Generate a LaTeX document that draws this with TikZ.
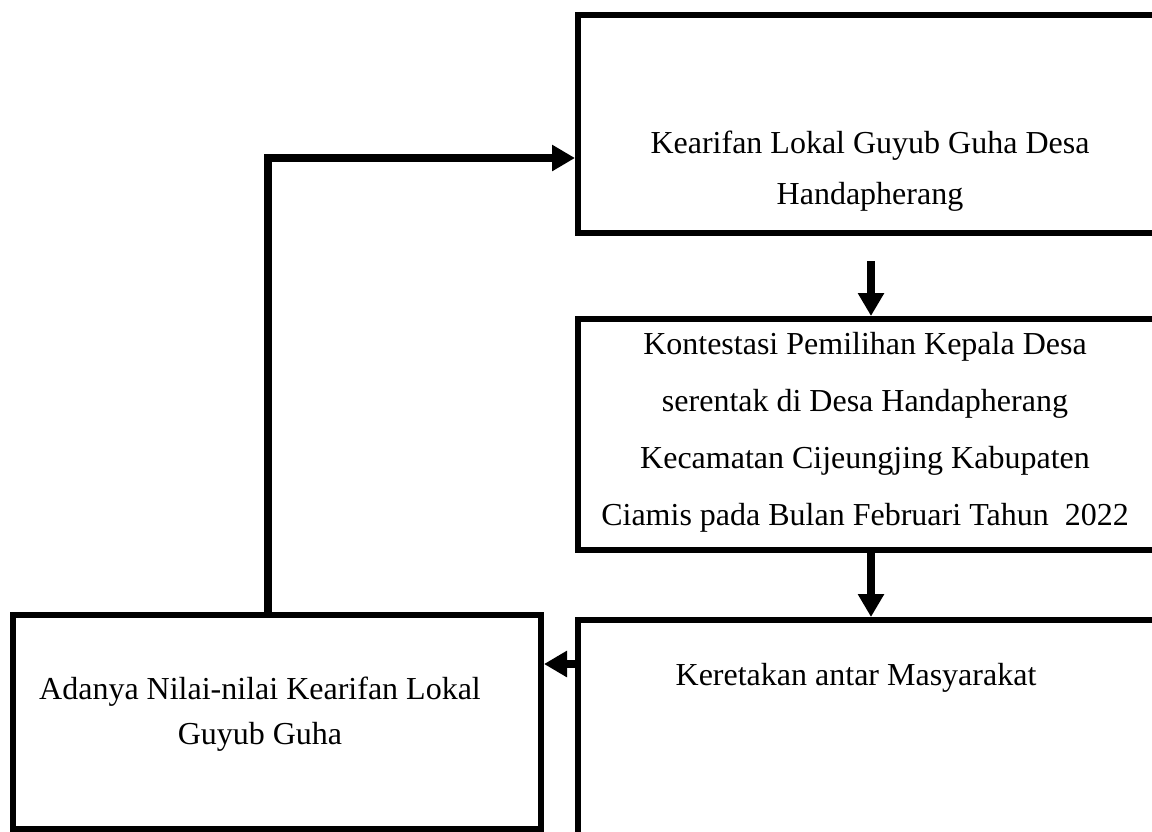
\documentclass[tikz,border=0pt]{standalone}
\usepackage{fontspec}
\setmainfont{Liberation Serif}
\usetikzlibrary{arrows.meta}
\begin{document}
\begin{tikzpicture}[x=1pt,y=-1pt,
  box/.style={draw=black,line width=6pt,minimum width=586pt,inner sep=0pt,anchor=north west},
  txt/.style={font=\fontsize{32}{50}\selectfont,align=center,inner sep=0pt},
  arr/.style={line width=7.5pt,-{Triangle[length=23pt,width=25pt]}}]
\useasboundingbox[fill=white] (0,0) rectangle (1152,831);
\node[box,minimum height=218pt] (b1) at (575,12) {};
\node[box,minimum height=231pt] (b2) at (575,316) {};
\node[box,minimum height=250pt] (b3) at (575,617) {};
\node[box,minimum width=528pt,minimum height=214pt] (b4) at (10,612) {};
\node[txt,font=\fontsize{32}{51}\selectfont] (t1) at (870,171) {Kearifan Lokal Guyub Guha Desa\\Handapherang};
\node[txt,font=\fontsize{32}{57}\selectfont] (t2) at (865,432) {Kontestasi Pemilihan Kepala Desa\\serentak di Desa Handapherang\\Kecamatan Cijeungjing Kabupaten\\Ciamis pada Bulan Februari Tahun\ \ 2022};
\node[txt] (t3) at (856,678) {Keretakan antar Masyarakat};
\node[txt,font=\fontsize{32}{45}\selectfont] (t4) at (260,714) {Adanya Nilai-nilai Kearifan Lokal\\Guyub Guha};
\draw[arr] ([yshift=-25pt]b1.south) -- (b2.north);
\draw[arr] (b2.south) -- (b3.north);
\coordinate (m) at (0,664);
\draw[arr] (b3.west |- m) -- (b4.east |- m);
\draw[arr,line join=miter] ([xshift=-9pt]b4.north) |- ([yshift=-34pt]b1.west);
\end{tikzpicture}
\end{document}
